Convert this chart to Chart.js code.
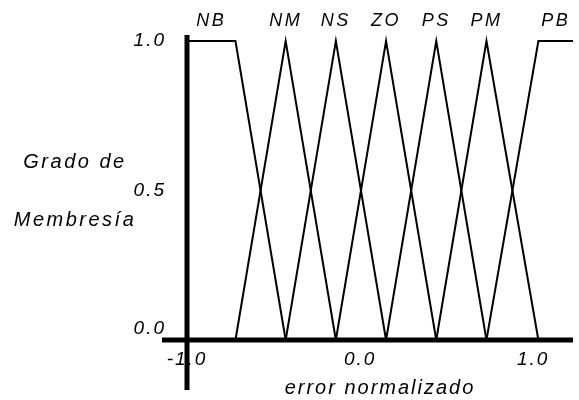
<!DOCTYPE html>
<html>
<head>
<meta charset="utf-8">
<script src="https://cdn.jsdelivr.net/npm/chart.js@4/dist/chart.umd.min.js"></script>
<style>
  html, body { margin: 0; padding: 0; background: #fff; }
  #fuzzyChart { display: block; }
</style>
</head>
<body>
<canvas id="fuzzyChart" width="579" height="400"></canvas>
<script>
// Fuzzy sets and their membership function breakpoints (normalized error)
const setNames = ['NB', 'NM', 'NS', 'ZO', 'PS', 'PM', 'PB'];
const setX = [
    [-1.0, -0.72, -0.43],
    [-0.72, -0.43, -0.14],
    [-0.43, -0.14, 0.15],
    [-0.14, 0.15, 0.44],
    [0.15, 0.44, 0.73],
    [0.44, 0.73, 1.03],
    [0.73, 1.03, 1.23]
];
const setY = [
    [1, 1, 0],
    [0, 1, 0],
    [0, 1, 0],
    [0, 1, 0],
    [0, 1, 0],
    [0, 1, 0],
    [0, 1, 1]
];
const xTicks = [-1.0, 0.0, 1.0];
const yTicks = [0.0, 0.5, 1.0];

const FONT = "'Liberation Sans', Arial, sans-serif";
Chart.defaults.font.family = FONT;
Chart.defaults.color = '#000';

const datasets = setNames.map((name, i) => ({
    label: name,
    data: setX[i].map((x, j) => ({ x: x, y: setY[i][j] })),
    borderColor: '#000',
    borderWidth: 2,
    pointRadius: 0,
    tension: 0,
    fill: false,
    clip: false
}));

// Draws set names, the left title and the thick axes
const decorations = {
    id: 'decorations',
    beforeDraw(chart) {
        chart.ctx.letterSpacing = '2px';
    },
    afterDraw(chart) {
        const ctx = chart.ctx;
        const xs = chart.scales.x;
        const ys = chart.scales.y;
        const area = chart.chartArea;
        ctx.save();
        ctx.letterSpacing = '2.5px';
        ctx.fillStyle = '#000';
        ctx.textAlign = 'center';
        ctx.textBaseline = 'middle';

        // set names above the peaks
        ctx.font = 'italic 18px ' + FONT;
        setNames.forEach((name, i) => {
            const top = setX[i].filter((x, j) => setY[i][j] === 1);
            const cx = top.reduce((a, b) => a + b, 0) / top.length;
            ctx.fillText(name, xs.getPixelForValue(cx), area.top - 20);
        });

        // y title, two horizontal lines
        ctx.font = 'italic 20px ' + FONT;
        const midY = ys.getPixelForValue(0.5);
        ctx.fillText('Grado de', area.left - 112, midY - 28);
        ctx.fillText('Membresía', area.left - 112, midY + 30);

        // thick axes
        ctx.strokeStyle = '#000';
        ctx.lineWidth = 5;
        const y0 = ys.getPixelForValue(0);
        const xm1 = xs.getPixelForValue(-1);
        ctx.beginPath();
        ctx.moveTo(area.left - 25, y0);
        ctx.lineTo(area.right, y0);
        ctx.stroke();
        ctx.beginPath();
        ctx.moveTo(xm1, area.top - 6);
        ctx.lineTo(xm1, area.bottom + 50);
        ctx.stroke();
        ctx.restore();
    }
};

const ctx = document.getElementById('fuzzyChart').getContext('2d');
const chart = new Chart(ctx, {
    type: 'line',
    data: { datasets: datasets },
    options: {
        responsive: false,
        animation: false,
        events: [],
        layout: { padding: { left: 124, top: 41, right: 6, bottom: 0 } },
        plugins: {
            legend: { display: false },
            tooltip: { enabled: false }
        },
        scales: {
            x: {
                type: 'linear',
                min: -1.0,
                max: 1.23,
                afterBuildTicks: (scale) => { scale.ticks = xTicks.map(v => ({ value: v })); },
                afterFit: (scale) => { scale.height = 60; },
                ticks: {
                    autoSkip: false,
                    maxRotation: 0,
                    padding: 8,
                    font: { size: 19, style: 'italic' },
                    callback: (v) => v.toFixed(1)
                },
                grid: { display: false, drawTicks: false },
                border: { display: false },
                title: {
                    display: true,
                    text: 'error normalizado',
                    font: { size: 20, style: 'italic' },
                    padding: { top: 0, bottom: 0 }
                }
            },
            y: {
                min: 0,
                max: 1,
                afterBuildTicks: (scale) => { scale.ticks = yTicks.map(v => ({ value: v })); },
                afterFit: (scale) => { scale.width = 63; },
                ticks: {
                    autoSkip: false,
                    padding: 21,
                    font: { size: 19, style: 'italic' },
                    callback: (v) => v === 0 ? ['0.0', ''] : v.toFixed(1)
                },
                grid: { display: false, drawTicks: false },
                border: { display: false }
            }
        }
    },
    plugins: [decorations]
});
</script>
</body>
</html>
